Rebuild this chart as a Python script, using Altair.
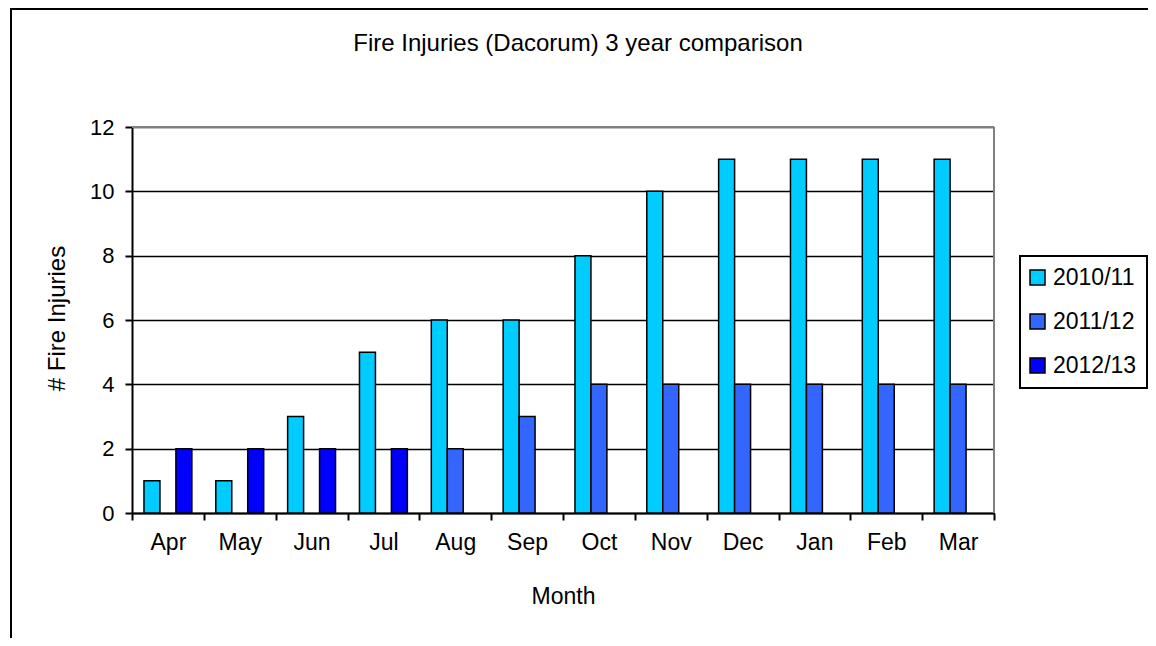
import altair as alt
import pandas as pd

months = ["Apr", "May", "Jun", "Jul", "Aug", "Sep", "Oct", "Nov", "Dec", "Jan", "Feb", "Mar"]
series_names = ["2010/11", "2011/12", "2012/13"]
v2010 = [1, 1, 3, 5, 6, 6, 8, 10, 11, 11, 11, 11]
v2011 = [None, None, None, None, 2, 3, 4, 4, 4, 4, 4, 4]
v2012 = [2, 2, 2, 2, None, None, None, None, None, None, None, None]
colors = ["#00CCFF", "#3366FF", "#0000FF"]

rows = []
for name, vals in zip(series_names, [v2010, v2011, v2012]):
    for m, v in zip(months, vals):
        if v is not None:
            rows.append({"Month": m, "Series": name, "Value": v})
df = pd.DataFrame(rows)

FONT = "Liberation Sans"
W, H = 862, 386
PAD_L, PAD_T = 124, 119
TOT_W, TOT_H = 1140, 630

bars = alt.Chart(df).mark_bar(stroke="black", strokeWidth=1.5).encode(
    x=alt.X("Month:N", sort=months,
            scale=alt.Scale(paddingInner=0, paddingOuter=0),
            axis=alt.Axis(title="Month", labelAngle=0, tickBand="extent",
                          domainColor="black", domainWidth=2, tickColor="black",
                          tickWidth=2, tickSize=7, labelFontSize=23, labelPadding=11,
                          labelColor="black", titleFontSize=23, titleFontWeight="normal",
                          titleColor="black", titleY=83, titleBaseline="middle",
                          grid=False)),
    xOffset=alt.XOffset("Series:N", scale=alt.Scale(domain=series_names, paddingInner=0, paddingOuter=0.75)),
    y=alt.Y("Value:Q", scale=alt.Scale(domain=[0, 12], nice=False),
            axis=alt.Axis(title="# Fire Injuries", values=[0, 2, 4, 6, 8, 10, 12],
                          domainColor="black", domainWidth=2, tickColor="black",
                          tickWidth=2, tickSize=7, labelFontSize=22, labelPadding=11,
                          labelColor="black", gridColor="black", gridWidth=1.5,
                          titleFontSize=24, titleFontWeight="normal", titleColor="black",
                          titleX=-75, titleY=191, titleBaseline="middle", titleAngle=-90)),
    color=alt.Color("Series:N", scale=alt.Scale(domain=series_names, range=colors),
                    legend=alt.Legend(title=None, orient="none", legendX=888, legendY=129,
                                      fillColor="white", strokeColor="black",
                                      padding=10, symbolType="square", symbolSize=225,
                                      symbolStrokeColor="black", symbolStrokeWidth=1.5,
                                      symbolOpacity=1, symbolOffset=-4,
                                      labelFontSize=23, labelColor="black",
                                      rowPadding=20, labelOffset=4)),
)

one = alt.Data(values=[{}])

border_top = alt.Chart(one).mark_rule(color="#808080", strokeWidth=2).encode(
    x=alt.value(0), x2=alt.value(W), y=alt.value(0))
border_right = alt.Chart(one).mark_rule(color="#808080", strokeWidth=2).encode(
    x=alt.value(W), y=alt.value(0), y2=alt.value(H))

frame_top = alt.Chart(one).mark_rule(color="black", strokeWidth=2).encode(
    x=alt.value(-PAD_L + 2), x2=alt.value(TOT_W - PAD_L), y=alt.value(-PAD_T + 1))
frame_left = alt.Chart(one).mark_rule(color="black", strokeWidth=2).encode(
    x=alt.value(-PAD_L + 3), y=alt.value(-PAD_T + 1), y2=alt.value(TOT_H - PAD_T))

title = alt.Chart(one).mark_text(fontSize=24, font=FONT, color="black",
                                 align="center", baseline="middle").encode(
    x=alt.value(446), y=alt.value(-83),
    text=alt.value("Fire Injuries (Dacorum) 3 year comparison"))

chart = alt.layer(bars, border_top, border_right, frame_top, frame_left, title).properties(
    width=W, height=H,
    autosize=alt.AutoSizeParams(type="none"),
    padding={"left": PAD_L, "top": PAD_T, "right": TOT_W - PAD_L - W, "bottom": TOT_H - PAD_T - H},
    background="white",
).configure_view(stroke=None).configure(font=FONT).configure_legend(strokeWidth=2)

chart.save("out.html", embed_options={"renderer": "svg", "actions": False})
